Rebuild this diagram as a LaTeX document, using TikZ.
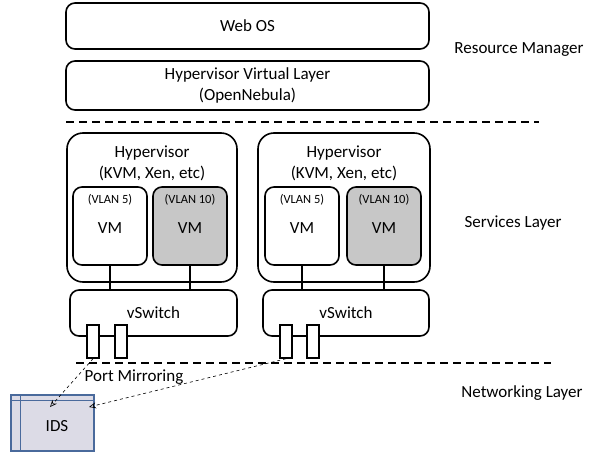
\documentclass[tikz,border=0pt]{standalone}
\usepackage{fontspec}
\setmainfont{Carlito}
\usetikzlibrary{arrows.meta}
\definecolor{idsblue}{RGB}{74,106,156}
\definecolor{idsfill}{RGB}{220,219,230}
\begin{document}
\begin{tikzpicture}[x=1pt,y=-1pt,
  box/.style={draw=black,line width=1.6pt,rounded corners=9pt,fill=white},
  hyp/.style={draw=black,line width=1.6pt,rounded corners=16pt,fill=white},
  vmw/.style={draw=black,line width=1.6pt,rounded corners=9pt,fill=white},
  vmg/.style={draw=black,line width=1.6pt,rounded corners=9pt,fill=black!22},
  port/.style={draw=black,line width=1.5pt,fill=white},
  lbl/.style={font=\fontsize{17}{21}\selectfont,align=center},
  vlan/.style={font=\fontsize{12.5}{14}\selectfont},
  sep/.style={line width=1.6pt,dash pattern=on 8pt off 5pt},
  link/.style={line width=1.6pt},
  mirror/.style={line width=0.6pt,dashed,-{Stealth[open,length=7pt,width=6pt]}}
]
\useasboundingbox (0,0) rectangle (589,458);
% resource manager
\node[box,minimum width=363pt,minimum height=46pt,lbl] (webos) at (247.5,26) {Web OS};
\node[box,minimum width=363pt,minimum height=49pt,lbl] (hvl) at (247.5,85.5) {Hypervisor Virtual Layer\\(OpenNebula)};
\coordinate (s1a) at (66,122);
\coordinate (s1b) at (539,122);
\draw[sep] (s1a) -- (s1b);
\node[lbl] (rm) at (519,50) {Resource Manager};
% left host
\node[hyp,minimum width=170pt,minimum height=149pt] (hyp1) at (152,207.5) {};
\node[lbl] (hyp1t) at (152,163) {Hypervisor\\(KVM, Xen, etc)};
\node[vmw,minimum width=74pt,minimum height=78pt] (vm1a) at (110,226) {};
\node[vmg,minimum width=74pt,minimum height=78pt] (vm1b) at (190,226) {};
\node[vlan] (v1a) at (110,200) {(VLAN 5)};
\node[vlan] (v1b) at (190,200) {(VLAN 10)};
\node[lbl] (vm1at) at (110,228) {VM};
\node[lbl] (vm1bt) at (190,228) {VM};
\node[box,minimum width=167pt,minimum height=46pt,lbl] (sw1) at (153.5,313) {};
\node[lbl] (sw1t) at (153.5,313) {vSwitch};
\draw[link] (vm1a.south) -- (vm1a.south |- sw1.north);
\draw[link] (vm1b.south) -- (vm1b.south |- sw1.north);
\node[port,minimum width=12pt,minimum height=33pt,inner sep=0pt] (p1a) at (93,341.5) {};
\node[port,minimum width=12pt,minimum height=33pt,inner sep=0pt] (p1b) at (121,341.5) {};
% right host
\node[hyp,minimum width=172pt,minimum height=149pt] (hyp2) at (344,207.5) {};
\node[lbl] (hyp2t) at (344,163) {Hypervisor\\(KVM, Xen, etc)};
\node[vmw,minimum width=74pt,minimum height=78pt] (vm2a) at (302,226) {};
\node[vmg,minimum width=74pt,minimum height=78pt] (vm2b) at (384,226) {};
\node[vlan] (v2a) at (302,200) {(VLAN 5)};
\node[vlan] (v2b) at (384,200) {(VLAN 10)};
\node[lbl] (vm2at) at (302,228) {VM};
\node[lbl] (vm2bt) at (384,228) {VM};
\node[box,minimum width=166pt,minimum height=46pt] (sw2) at (346,313) {};
\node[lbl] (sw2t) at (346,313) {vSwitch};
\draw[link] (vm2a.south) -- (vm2a.south |- sw2.north);
\draw[link] (vm2b.south) -- (vm2b.south |- sw2.north);
\node[port,minimum width=12pt,minimum height=33pt,inner sep=0pt] (p2a) at (286,341.5) {};
\node[port,minimum width=12pt,minimum height=33pt,inner sep=0pt] (p2b) at (313,341.5) {};
\node[lbl] (sl) at (513,223) {Services Layer};
% separator 2
\coordinate (s2a) at (76,363);
\coordinate (s2b) at (551,363);
\draw[sep] (s2a) -- (s2b);
\node[lbl] (nl) at (522,393) {Networking Layer};
% IDS
\node[draw=idsblue,line width=1.8pt,fill=idsfill,minimum width=83pt,minimum height=56pt,inner sep=0pt] (ids) at (52.5,423) {};
\draw[idsblue,line width=1.2pt] ([xshift=10pt]ids.north west) -- ([xshift=10pt]ids.south west);
\draw[idsblue,line width=1.2pt] ([yshift=-6pt]ids.north west) -- ([yshift=-6pt]ids.north east);
\node[lbl] (idst) at (57,426) {IDS};
\node[lbl] (pm) at (134,377) {Port Mirroring};
\coordinate (t1) at (50,407);
\coordinate (t2) at (89,407);
\draw[mirror] (p1a.south) -- (t1);
\draw[mirror] (p2a.south) -- (t2);
\end{tikzpicture}
\end{document}
